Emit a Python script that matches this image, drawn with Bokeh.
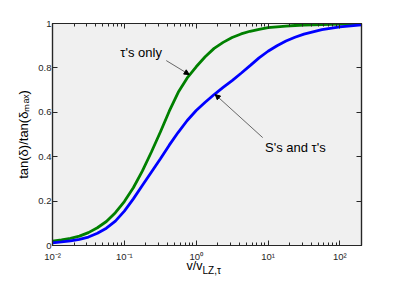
import math
from bokeh.plotting import figure
from bokeh.models import (Range1d, LogTicker, FixedTicker, LogAxis, LinearAxis,
                          Label, Arrow, NormalHead)
from bokeh.embed import file_html
from bokeh.resources import INLINE

# ---- data ----
v = [0.01, 0.01334, 0.01778, 0.02371, 0.03162, 0.04217, 0.05623, 0.07499,
     0.1, 0.1334, 0.1778, 0.2371, 0.3162, 0.4217, 0.5623, 0.7499,
     1.0, 1.334, 1.778, 2.371, 3.162, 4.217, 5.623, 7.499,
     10.0, 13.34, 17.78, 23.71, 31.62, 56.23, 100.0, 200.0]
tau_only = [0.020, 0.025, 0.032, 0.042, 0.058, 0.080, 0.108, 0.148,
            0.198, 0.260, 0.335, 0.420, 0.510, 0.605, 0.690, 0.755,
            0.805, 0.850, 0.888, 0.915, 0.937, 0.953, 0.965, 0.974,
            0.981, 0.985, 0.988, 0.991, 0.993, 0.995, 0.997, 0.998]
s_and_tau = [0.012, 0.016, 0.021, 0.028, 0.038, 0.055, 0.078, 0.110,
             0.155, 0.210, 0.270, 0.330, 0.390, 0.452, 0.510, 0.563,
             0.608, 0.645, 0.680, 0.712, 0.743, 0.776, 0.810, 0.845,
             0.875, 0.900, 0.921, 0.938, 0.952, 0.972, 0.985, 0.994]

x_ticks = [0.01, 0.1, 1, 10, 100]
x_tick_labels = ["10⁻²", "10⁻¹", "10⁰", "10¹", "10²"]
y_ticks = [0, 0.2, 0.4, 0.6, 0.8, 1]
y_tick_labels = ["0", "0.2", "0.4", "0.6", "0.8", "1"]

FONT = "Liberation Sans"
AX = "#262626"

p = figure(width=398, height=299, x_axis_type="log",
           x_range=Range1d(0.01, 200), y_range=Range1d(0, 1),
           output_backend="svg", toolbar_location=None,
           min_border_left=52, min_border_right=37,
           min_border_top=23, min_border_bottom=54)
p.background_fill_color = "#f0f0f0"
p.border_fill_color = "white"
p.outline_line_color = AX
p.outline_line_width = 1.2
p.xgrid.visible = False
p.ygrid.visible = False

xt = LogTicker(num_minor_ticks=10)
yt = FixedTicker(ticks=y_ticks)

def style(ax, labels):
    ax.axis_line_color = AX
    ax.axis_line_width = 1.2
    ax.major_tick_line_color = AX
    ax.minor_tick_line_color = AX
    ax.major_tick_in = 5
    ax.major_tick_out = 0
    ax.minor_tick_in = 3
    ax.minor_tick_out = 0
    ax.major_tick_line_width = 1
    ax.minor_tick_line_width = 1
    if not labels:
        ax.major_label_text_alpha = 0
        ax.major_label_text_font_size = "8px"

p.xaxis.ticker = xt
style(p.xaxis[0], True)
p.xaxis.major_label_overrides = {t: s for t, s in zip(x_ticks, x_tick_labels)}
p.xaxis.major_label_text_font = FONT
p.xaxis.major_label_text_font_size = "9.5px"
p.xaxis.major_label_text_color = AX
p.xaxis.major_label_standoff = 5

p.yaxis.ticker = yt
style(p.yaxis[0], True)
p.yaxis.minor_tick_line_color = None
p.yaxis.major_label_overrides = {t: s for t, s in zip(y_ticks, y_tick_labels)}
p.yaxis.major_label_text_font = FONT
p.yaxis.major_label_text_font_size = "9.5px"
p.yaxis.major_label_text_color = AX
p.yaxis.major_label_standoff = 1
p.yaxis.axis_label = "tan(δ)/tan(δₘₐₓ)"
p.yaxis.axis_label_text_font = FONT
p.yaxis.axis_label_text_font_size = "13px"
p.yaxis.axis_label_text_font_style = "normal"
p.yaxis.axis_label_text_color = "black"
p.yaxis.axis_label_standoff = 4

top = LogAxis(ticker=xt)
style(top, False)
p.add_layout(top, "above")
right = LinearAxis(ticker=yt)
style(right, False)
right.minor_tick_line_color = None
p.add_layout(right, "right")

p.line(v, tau_only, line_color="#008000", line_width=2.8)
p.line(v, s_and_tau, line_color="#0000ff", line_width=2.8)

# x axis label placed in the lower side panels
p.add_layout(Label(x=134, y=13, x_units="screen", y_units="screen", text="v/v",
                   text_align="left", text_baseline="middle", text_font=FONT,
                   text_font_size="12.5px", text_color="black"), "below")
p.add_layout(Label(x=150, y=19, x_units="screen", y_units="screen", text="LZ,τ",
                   text_align="left", text_baseline="middle", text_font=FONT,
                   text_font_size="10px", text_color="black"), "below")

# annotations
p.add_layout(Label(x=0.088, y=0.869, text="τ's only", text_align="left",
                   text_baseline="middle", text_font=FONT,
                   text_font_size="13px", text_color="black"))
p.add_layout(Label(x=9.08, y=0.443, text="S's and τ's", text_align="left",
                   text_baseline="middle", text_font=FONT,
                   text_font_size="13px", text_color="black"))
p.add_layout(Arrow(end=NormalHead(size=5, fill_color="black", line_color="black"),
                   x_start=0.383, y_start=0.833, x_end=0.8, y_end=0.77,
                   line_color="#444444", line_width=0.8))
p.add_layout(Arrow(end=NormalHead(size=5, fill_color="black", line_color="black"),
                   x_start=8.43, y_start=0.486, x_end=1.84, y_end=0.68,
                   line_color="#444444", line_width=0.8))

open("out.html", "w").write(file_html(p, INLINE))
